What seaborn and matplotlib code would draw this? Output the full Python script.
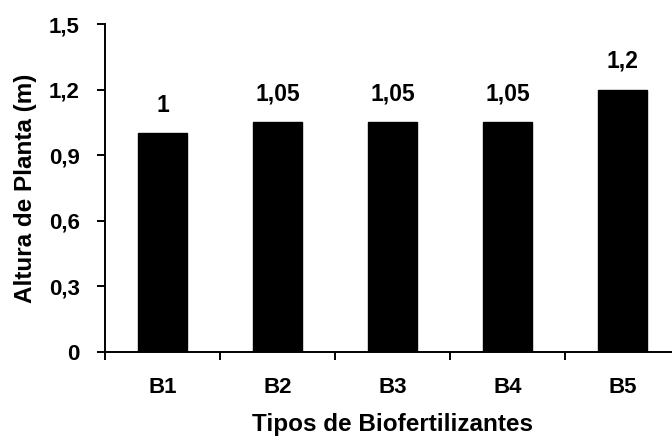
import matplotlib
matplotlib.use("Agg")
import matplotlib.pyplot as plt
import seaborn as sns
import pandas as pd
from matplotlib.ticker import FixedLocator

# Plant height by biofertilizer type
categories = ["B1", "B2", "B3", "B4", "B5"]
heights = [1.0, 1.05, 1.05, 1.05, 1.2]
value_labels = ["1", "1,05", "1,05", "1,05", "1,2"]
y_ticks = [0, 0.3, 0.6, 0.9, 1.2, 1.5]
y_tick_labels = ["0", "0,3", "0,6", "0,9", "1,2", "1,5"]

df = pd.DataFrame({"Tipo": categories, "Altura": heights})

sns.set_theme(style="white")
plt.rcParams["font.family"] = ["Liberation Sans", "DejaVu Sans"]
plt.rcParams["font.weight"] = "bold"

fig = plt.figure(figsize=(6.72, 4.43), dpi=100)
ax = fig.add_axes([105 / 672, 91 / 443, 575 / 672, 328 / 443])

sns.barplot(data=df, x="Tipo", y="Altura", color="black", width=0.42,
            saturation=1, ax=ax, edgecolor="black")

for i, (h, lab) in enumerate(zip(heights, value_labels)):
    ax.annotate(lab, (i, h), xytext=(0, 12), textcoords="offset points",
                ha="center", va="bottom", fontsize=16.5, fontweight="bold",
                color="black")

ax.set_xlim(-0.5, 4.5)
ax.set_ylim(0, 1.5)
ax.set_yticks(y_ticks)
ax.set_yticklabels(y_tick_labels)

# tick marks sit between categories; labels stay centred under bars
ax.xaxis.set_minor_locator(FixedLocator([-0.5, 0.5, 1.5, 2.5, 3.5, 4.5]))
ax.tick_params(axis="x", which="major", length=0, pad=18, labelsize=16)
ax.tick_params(axis="x", which="minor", direction="out", length=6, width=1.4,
               color="black", bottom=True)
ax.tick_params(axis="y", direction="out", length=6, width=1.4, color="black",
               left=True, labelsize=16, pad=12)
for t in ax.get_xticklabels() + ax.get_yticklabels():
    t.set_fontweight("bold")
    t.set_color("black")

for s in ["top", "right"]:
    ax.spines[s].set_visible(False)
for s in ["left", "bottom"]:
    ax.spines[s].set_color("black")
    ax.spines[s].set_linewidth(1.4)

ax.set_xlabel("Tipos de Biofertilizantes", fontsize=17.5, fontweight="bold",
              labelpad=11, color="black")
ax.set_ylabel("Altura de Planta (m)", fontsize=17.5, fontweight="bold",
              labelpad=8.5, color="black")

fig.savefig("out.png", dpi=100)
